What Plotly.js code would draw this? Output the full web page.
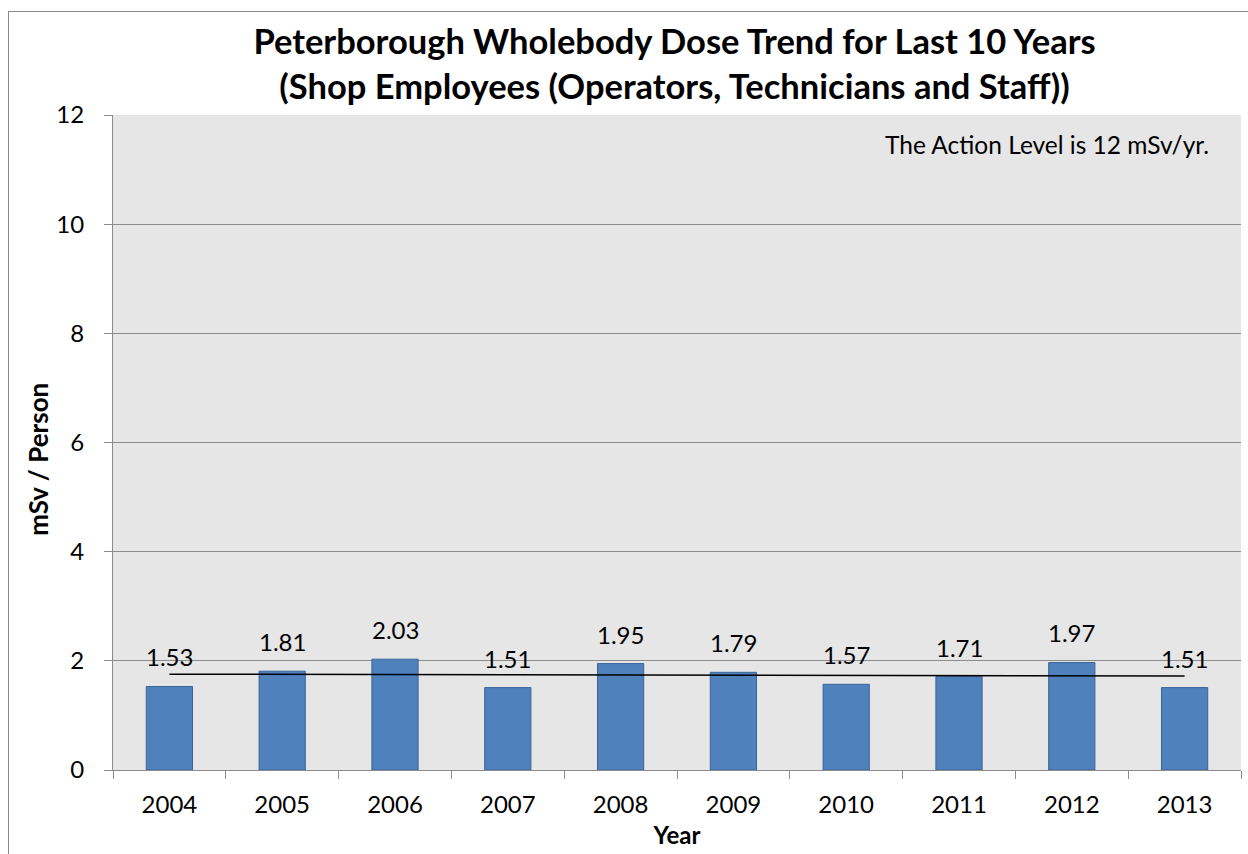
<!DOCTYPE html>
<html>
<head>
<meta charset="utf-8">
<script src="https://cdn.plot.ly/plotly-3.0.1.min.js"></script>
<style>
html,body{margin:0;padding:0;overflow:hidden;background:#fff;}
#chart{width:1248px;height:854px;}
#frame{position:absolute;left:8px;top:11px;width:2000px;height:2000px;border:1px solid #8a8a8a;pointer-events:none;}
</style>
</head>
<body>
<div id="chart"></div>
<div id="frame"></div>
<script>
const years = ["2004","2005","2006","2007","2008","2009","2010","2011","2012","2013"];
const dose = [1.53, 1.81, 2.03, 1.51, 1.95, 1.79, 1.57, 1.71, 1.97, 1.51];
const yTicks = [0, 2, 4, 6, 8, 10, 12];
const titleText = "Peterborough Wholebody Dose Trend for Last 10 Years<br>(Shop Employees (Operators, Technicians and Staff))";
const noteText = "The Action Level is 12 mSv/yr.";
const yTitleText = "mSv / Person";

// Linear (least-squares) trendline over the data, like the spreadsheet's trendline
const n = dose.length;
const idx = dose.map((_, i) => i);
const mx = idx.reduce((a, b) => a + b, 0) / n;
const my = dose.reduce((a, b) => a + b, 0) / n;
let sxy = 0, sxx = 0;
for (let i = 0; i < n; i++) { sxy += (idx[i] - mx) * (dose[i] - my); sxx += (idx[i] - mx) ** 2; }
const slope = sxy / sxx;
const trend = [my + slope * (0 - mx), my + slope * (n - 1 - mx)];

const FONT = "Lato, 'Open Sans', sans-serif";

const traces = [
  {
    type: "bar", x: years, y: dose,
    marker: {color: "#4f81bd", line: {color: "#3b6598", width: 1}},
    width: 0.41, hoverinfo: "x+y", showlegend: false
  },
  {
    type: "scatter", mode: "lines", x: [years[0], years[n - 1]], y: trend,
    line: {color: "#000000", width: 1.5}, hoverinfo: "skip", showlegend: false
  }
];

const annotations = years.map((yr, i) => ({
  x: i, y: dose[i], xref: "x", yref: "y", text: dose[i].toFixed(2),
  showarrow: false, yanchor: "bottom", yshift: 13,
  font: {family: FONT, size: 24, color: "#000"}
}));
annotations.push({
  x: 0.973, y: 0.955, xref: "paper", yref: "paper", xanchor: "right", yanchor: "middle",
  text: noteText, showarrow: false, font: {family: FONT, size: 24.5, color: "#000"}
});
// y-axis title (placed as in the reference, slightly below the plot's middle)
annotations.push({
  x: -0.0665, y: 0.475, xref: "paper", yref: "paper", xanchor: "center", yanchor: "middle",
  text: "<b>" + yTitleText + "</b>", textangle: -90, showarrow: false,
  font: {family: FONT, size: 26, color: "#000"}
});

const layout = {
  width: 1248, height: 854,
  margin: {l: 113, r: 7, t: 115, b: 84},
  paper_bgcolor: "#ffffff", plot_bgcolor: "#e6e6e6",
  font: {family: FONT, color: "#000"},
  title: {
    text: titleText, x: 0.5405, xanchor: "center", yref: "container", y: 0.937, yanchor: "top",
    font: {family: FONT, size: 34.5, color: "#000", weight: "bold"}
  },
  xaxis: {
    type: "category", range: [-0.5, 9.5], autorange: false,
    tickson: "boundaries", ticks: "outside", ticklen: 8, tickcolor: "#8c8c8c",
    showline: true, linecolor: "#8c8c8c", linewidth: 1, showgrid: false,
    tickfont: {family: FONT, size: 24, color: "#000"}, ticklabelstandoff: 13,
    title: {text: "<b>Year</b>", font: {family: FONT, size: 24, color: "#000"}, standoff: 10},
    automargin: false, fixedrange: true
  },
  yaxis: {
    range: [0, 12], autorange: false, tickvals: yTicks, ticktext: yTicks.map(String),
    ticks: "outside", ticklen: 8, tickcolor: "#8c8c8c",
    showline: true, linecolor: "#8c8c8c", linewidth: 1,
    showgrid: true, gridcolor: "#8c8c8c", gridwidth: 1, zeroline: false,
    tickfont: {family: FONT, size: 24, color: "#000"}, ticklabelstandoff: 15,
    automargin: false, fixedrange: true
  },
  annotations: annotations,
  bargap: 0.59
};

Plotly.newPlot("chart", traces, layout, {displayModeBar: false, staticPlot: true});
</script>
</body>
</html>
